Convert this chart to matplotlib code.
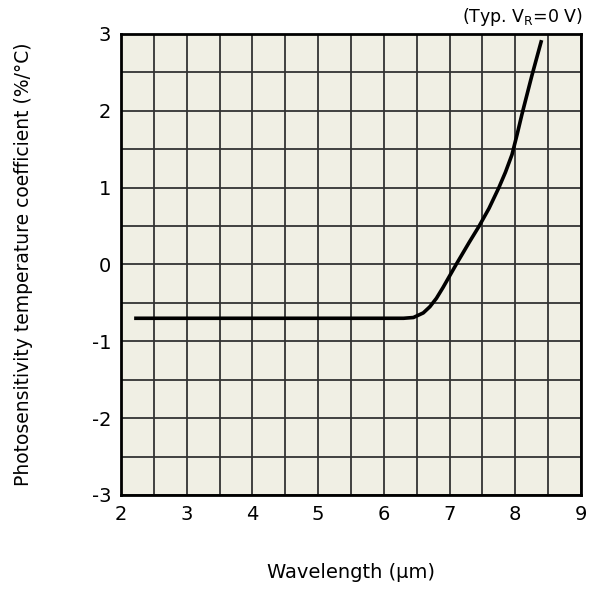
import numpy as np
import matplotlib.pyplot as plt

# wavelength (um) vs temperature coefficient (%/C)
wavelength = [2.2, 6.3, 6.45, 6.6, 6.7, 6.8, 6.9, 7.0, 7.1, 7.3, 7.45, 7.6, 7.75, 7.85, 7.95, 8.03, 8.1, 8.25, 8.4]
coef = [-0.7, -0.7, -0.69, -0.63, -0.55, -0.44, -0.3, -0.15, 0.0, 0.29, 0.5, 0.73, 1.0, 1.2, 1.43, 1.7, 1.95, 2.45, 2.92]

xticks = [2, 3, 4, 5, 6, 7, 8, 9]
yticks = [-3, -2, -1, 0, 1, 2, 3]

plt.rcParams['axes.unicode_minus'] = False

fig = plt.figure(figsize=(5.94, 5.89), dpi=100)
ax = fig.add_axes([0.2037, 0.1596, 0.7744, 0.7827])
ax.set_facecolor('#f0efe4')

ax.set_xlim(2, 9)
ax.set_ylim(-3, 3)
ax.set_xticks(xticks)
ax.set_yticks(yticks)
ax.set_xticks(np.arange(2, 9.01, 0.5), minor=True)
ax.set_yticks(np.arange(-3, 3.01, 0.5), minor=True)
ax.grid(True, which='both', color='#333333', linewidth=1.3)
ax.set_axisbelow(True)
ax.tick_params(which='both', length=0, labelsize=14, pad=7)

for s in ax.spines.values():
    s.set_linewidth(2)
    s.set_color('black')

ax.plot(wavelength, coef, color='black', linewidth=2.6, solid_capstyle='butt',
        solid_joinstyle='round')

ax.set_xlabel('Wavelength (μm)', fontsize=14, labelpad=28)
ax.set_ylabel('Photosensitivity temperature coefficient (%/°C)', fontsize=13.5, labelpad=42)
ax.text(1.005, 1.012, '(Typ. V$_\\mathregular{R}$=0 V)', transform=ax.transAxes,
        ha='right', va='bottom', fontsize=12.5)

fig.savefig('out.png', dpi=100)
